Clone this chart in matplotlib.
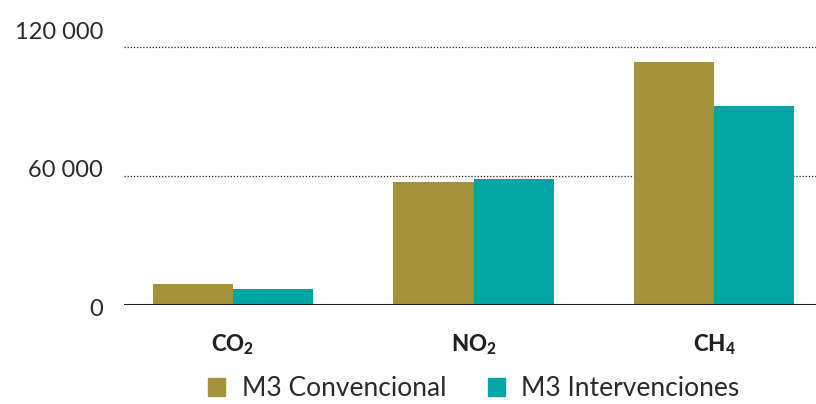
import numpy as np
import matplotlib
matplotlib.use('Agg')
import matplotlib.pyplot as plt
from matplotlib.transforms import ScaledTranslation
from matplotlib.patches import Patch

plt.rcParams['font.family'] = ['Lato', 'DejaVu Sans']
plt.rcParams['mathtext.fontset'] = 'custom'
plt.rcParams['mathtext.rm'] = 'Lato'
plt.rcParams['mathtext.bf'] = 'Lato:black'

gases = [r'$\mathbf{CO_2}$', r'$\mathbf{NO_2}$', r'$\mathbf{CH_4}$']
convencional = [9800, 57300, 113300]
intervenciones = [7500, 58700, 92800]
yticks = [0, 60000, 120000]
ytick_labels = ['0', '60 000', '120 000']

OLIVE = '#A29338'
TEAL = '#00A5A4'
INK = '#231F20'

fig = plt.figure(figsize=(8.16, 4.04), dpi=100)
ax = fig.add_axes([0.152, 0.245, 0.848, 0.664])

x = np.arange(len(gases))
w = 0.333
ax.bar(x - w / 2, convencional, w, color=OLIVE, zorder=3, label='M3 Convencional')
ax.bar(x + w / 2, intervenciones, w, color=TEAL, zorder=3, label='M3 Intervenciones')

# dotted grid lines, solid baseline
for v in yticks[1:]:
    ax.axhline(v, color=INK, lw=0.9, ls=(0, (1, 1.5)), zorder=1)
ax.axhline(0, color=INK, lw=2.2, zorder=4)

ax.set_xlim(-0.453, 2.424)
ax.set_ylim(0, 125000)
for s in ax.spines.values():
    s.set_visible(False)

ax.set_xticks(x)
ax.set_xticklabels(gases, fontsize=16, color=INK)
ax.tick_params(axis='x', length=0, pad=20)

ax.set_yticks(yticks)
ax.set_yticklabels(ytick_labels, fontsize=17, color='#2a2a2a')
ax.tick_params(axis='y', length=0, pad=15)
# labels sit slightly above their lines
shifts = [-2, 8, 17]
for lab, d in zip(ax.get_yticklabels(), shifts):
    lab.set_transform(lab.get_transform() + ScaledTranslation(0, d / 100, fig.dpi_scale_trans))

handles = [Patch(color=OLIVE), Patch(color=TEAL)]
fig.legend(handles, ['M3 Convencional', 'M3 Intervenciones'], loc='lower center',
           bbox_to_anchor=(0.581, -0.052), ncol=2, frameon=False, fontsize=19,
           handlelength=0.64, handleheight=0.64, handletextpad=0.64, columnspacing=1.55,
           labelcolor='#2a2a2a')

fig.savefig('out.png', dpi=100)
